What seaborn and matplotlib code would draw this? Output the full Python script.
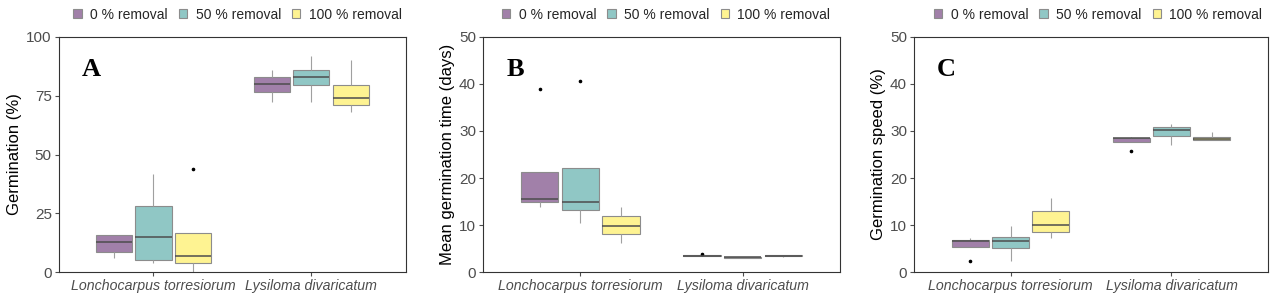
import numpy as np
import pandas as pd
import matplotlib.pyplot as plt
from matplotlib.patches import Patch
import seaborn as sns

species = ['Lonchocarpus torresiorum', 'Lysiloma divaricatum']
treatments = ['0 % removal', '50 % removal', '100 % removal']
colors = ['#A180A9', '#90C7C5', '#FEF392']

# box summaries: [whisker low, q1, median, q3, whisker high], one per species x treatment
germ_box = [[6.2, 8.8, 13.0, 15.8, 15.8], [4.0, 5.4, 14.9, 28.3, 41.9], [0.0, 4.2, 7.1, 16.8, 16.8],
            [72.1, 76.4, 79.9, 82.7, 85.9], [72.1, 79.3, 82.9, 85.9, 91.8], [67.9, 70.9, 74.0, 79.3, 90.0]]
germ_out = [[], [], [43.7], [], [], []]

mgt_box = [[13.8, 14.85, 15.5, 21.4, 21.4], [10.4, 13.3, 15.0, 22.2, 22.2], [6.3, 8.1, 9.9, 11.9, 13.9],
           [3.45, 3.45, 3.55, 3.6, 3.6], [3.1, 3.15, 3.25, 3.3, 3.35], [3.35, 3.4, 3.5, 3.6, 3.6]]
mgt_out = [[38.8], [40.5], [], [3.9], [], []]

speed_box = [[5.3, 5.4, 6.6, 6.8, 7.2], [2.5, 5.2, 6.7, 7.6, 9.8], [7.2, 8.6, 10.1, 13.0, 15.8],
             [27.6, 27.6, 28.5, 28.6, 28.8], [27.0, 28.9, 30.2, 30.9, 31.4], [28.0, 28.0, 28.4, 28.8, 29.7]]
speed_out = [[2.5], [], [], [25.8], [], []]

ylabels = ['Germination (%)', 'Mean germination time (days)', 'Germination speed (%)']
letters = ['A', 'B', 'C']
ylims = [(0, 100), (0, 50), (0, 50)]
yticks = [[0, 25, 50, 75, 100], [0, 10, 20, 30, 40, 50], [0, 10, 20, 30, 40, 50]]


def to_samples(boxes, outs):
    # repeat quartiles so that numpy's percentiles land exactly on the read values
    rows = []
    k = 0
    for sp in species:
        for tr in treatments:
            lo, q1, med, q3, hi = boxes[k]
            vals = [lo, q1, q1, med, med, q3, q3, hi]
            for o in outs[k]:
                vals.append(o)
            if len(vals) == 8:
                vals.append(med)
            for v in vals:
                rows.append({'species': sp, 'treatment': tr, 'value': v})
            k += 1
    return pd.DataFrame(rows)


sns.set_theme(style='white')
plt.rcParams['font.family'] = ['Liberation Sans', 'DejaVu Sans']

fig = plt.figure(figsize=(12.78, 2.99), dpi=100)
W, H = 1278, 299
boxes_px = [(58.7, 406), (483, 840), (914, 1268)]
top, bottom = 36.7, 272.4
legend_cx = [0.515, 0.513, 0.52]

datasets = [(germ_box, germ_out), (mgt_box, mgt_out), (speed_box, speed_out)]

for i, (bx, ot) in enumerate(datasets):
    l, r = boxes_px[i]
    ax = fig.add_axes([l / W, 1 - bottom / H, (r - l) / W, (bottom - top) / H])
    df = to_samples(bx, ot)
    sns.boxplot(data=df, x='species', y='value', hue='treatment', order=species, hue_order=treatments,
                palette=colors, saturation=1, width=0.75, gap=0.08, linewidth=0.8, whis=1.5,
                boxprops={'edgecolor': '#8c8c8c'},
                whiskerprops={'color': '#a0a0a0'}, capprops={'color': '#a0a0a0', 'linewidth': 0},
                medianprops={'color': '#4d4d4d', 'linewidth': 1.1},
                flierprops={'marker': 'o', 'markersize': 1.6, 'markerfacecolor': 'black',
                            'markeredgecolor': 'black'},
                legend=False, ax=ax)
    ax.set_xlim(-0.6, 1.6)
    ax.set_ylim(*ylims[i])
    ax.set_yticks(yticks[i])
    ax.set_xlabel('')
    ax.set_ylabel(ylabels[i], fontsize=12, color='black', labelpad=3)
    ax.tick_params(axis='y', labelsize=11, colors='#4d4d4d', length=3, width=0.8, pad=2, left=True)
    ax.tick_params(axis='x', labelsize=10.2, colors='#4d4d4d', length=3, width=0.8, pad=2, bottom=True)
    for lab in ax.get_xticklabels():
        lab.set_fontstyle('italic')
    for sp in ax.spines.values():
        sp.set_color('#333333')
        sp.set_linewidth(0.8)
    ax.text(0.065, 0.86, letters[i], transform=ax.transAxes, fontsize=19, fontweight='bold',
            family='Liberation Serif', va='center', ha='left', color='black')
    handles = [Patch(facecolor=c, edgecolor='#8c8c8c', linewidth=0.8) for c in colors]
    ax.legend(handles, treatments, loc='center', bbox_to_anchor=(legend_cx[i], 1.094), ncol=3,
              frameon=False, fontsize=10, handlelength=0.6, handleheight=0.6, handletextpad=0.6,
              columnspacing=0.8, borderaxespad=0, borderpad=0)

fig.savefig('out.png', dpi=100)
